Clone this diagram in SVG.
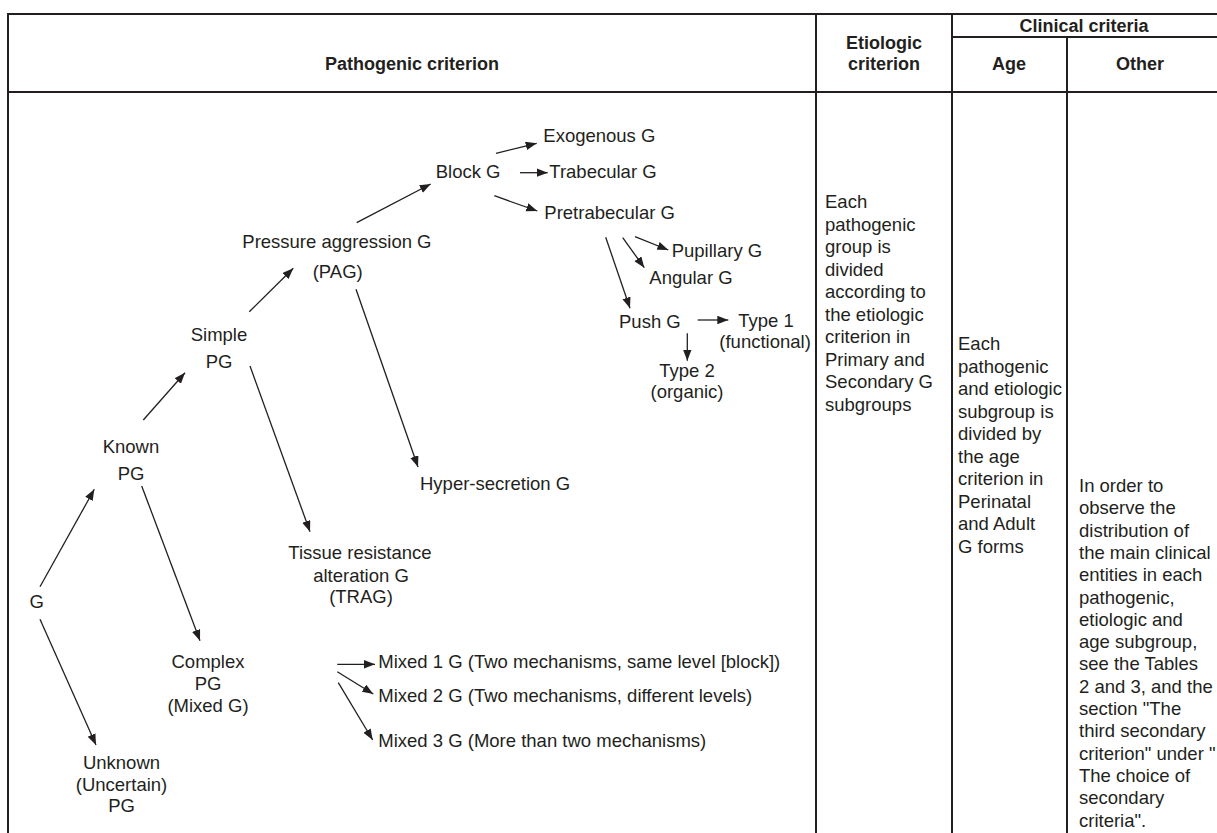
<svg xmlns="http://www.w3.org/2000/svg" width="1217" height="833" viewBox="0 0 1217 833">
<style>
.t{font-family:"Liberation Sans",Arial,sans-serif;font-size:18.5px;fill:#231f20}
.m{text-anchor:middle}
.h{font-family:"Liberation Sans",Arial,sans-serif;font-size:18px;font-weight:bold;fill:#231f20;text-anchor:middle}
.grid line{stroke:#231f20;stroke-width:2}
.conn line{stroke:#231f20;stroke-width:1.3;fill:none;marker-end:url(#ah)}
</style>
<defs>
<marker id="ah" markerUnits="userSpaceOnUse" markerWidth="12" markerHeight="9" refX="11" refY="4.25" orient="auto">
<path d="M0,0 L11,4.25 L0,8.5 z" fill="#231f20"/>
</marker>
</defs>
<rect width="1217" height="833" fill="#fff"/>
<g id="table" class="grid">
<line x1="7" y1="14" x2="1217" y2="14"/>
<line x1="952" y1="37" x2="1217" y2="37"/>
<line x1="7" y1="92" x2="1217" y2="92"/>
<line x1="8" y1="13" x2="8" y2="833"/>
<line x1="816" y1="13" x2="816" y2="833"/>
<line x1="952" y1="13" x2="952" y2="833"/>
<line x1="1067" y1="37" x2="1067" y2="833"/>
</g>
<g id="headers">
<text class="h" x="412" y="70">Pathogenic criterion</text>
<text class="h" x="884" y="49">Etiologic</text>
<text class="h" x="884" y="70">criterion</text>
<text class="h" x="1084" y="32">Clinical criteria</text>
<text class="h" x="1009" y="70">Age</text>
<text class="h" x="1140" y="70">Other</text>
</g>
<g id="connectors" class="conn">
<line x1="40" y1="586.7" x2="94.3" y2="489.3"/>
<line x1="40" y1="619.3" x2="96" y2="745"/>
<line x1="143.3" y1="420" x2="185" y2="372.7"/>
<line x1="141.7" y1="486" x2="200" y2="640.7"/>
<line x1="249.3" y1="311.7" x2="293.3" y2="268.3"/>
<line x1="250" y1="366" x2="310" y2="531.7"/>
<line x1="356.7" y1="222.7" x2="430.7" y2="184"/>
<line x1="356" y1="289.3" x2="418" y2="467"/>
<line x1="496" y1="153.3" x2="536.7" y2="143.3"/>
<line x1="520" y1="172.7" x2="547.7" y2="172.7"/>
<line x1="494.3" y1="195.7" x2="537.3" y2="211"/>
<line x1="605.7" y1="237.3" x2="630" y2="308.3"/>
<line x1="622.7" y1="237.7" x2="644.3" y2="267.7"/>
<line x1="635" y1="236.7" x2="668.3" y2="250"/>
<line x1="697.7" y1="320" x2="728.3" y2="320"/>
<line x1="687.3" y1="333.3" x2="687.3" y2="360.7"/>
<line x1="337.3" y1="664.3" x2="375" y2="664.3"/>
<line x1="337.3" y1="671.7" x2="373.3" y2="694"/>
<line x1="338.3" y1="682.7" x2="372.7" y2="740"/>
</g>
<g id="n-g"><text class="t m" x="36.7" y="608">G</text></g>
<g id="n-known"><text class="t m" x="131" y="453">Known</text><text class="t m" x="131" y="480">PG</text></g>
<g id="n-simple"><text class="t m" x="219" y="341">Simple</text><text class="t m" x="219" y="368">PG</text></g>
<g id="n-pag"><text class="t" x="242.3" y="248">Pressure aggression G</text><text class="t m" x="337.7" y="278">(PAG)</text></g>
<g id="n-block"><text class="t" x="435.7" y="178.3">Block G</text></g>
<g id="n-exo"><text class="t" x="543.3" y="141.7">Exogenous G</text></g>
<g id="n-trab"><text class="t" x="549.3" y="178.3">Trabecular G</text></g>
<g id="n-pretrab"><text class="t" x="544.3" y="219.3">Pretrabecular G</text></g>
<g id="n-pupil"><text class="t" x="671.7" y="256.7">Pupillary G</text></g>
<g id="n-angular"><text class="t" x="649.3" y="284.3">Angular G</text></g>
<g id="n-push"><text class="t" x="619" y="328.3">Push G</text></g>
<g id="n-type1"><text class="t" x="738.3" y="326.7">Type 1</text><text class="t" x="719.3" y="348.3">(functional)</text></g>
<g id="n-type2"><text class="t m" x="687" y="377.3">Type 2</text><text class="t m" x="687" y="398.3">(organic)</text></g>
<g id="n-hyper"><text class="t" x="420" y="490">Hyper-secretion G</text></g>
<g id="n-trag"><text class="t m" x="360" y="559.3">Tissue resistance</text><text class="t m" x="361" y="581.7">alteration G</text><text class="t m" x="361" y="603.3">(TRAG)</text></g>
<g id="n-complex"><text class="t m" x="208" y="668.3">Complex</text><text class="t m" x="208" y="690">PG</text><text class="t m" x="208" y="711.7">(Mixed G)</text></g>
<g id="n-mixed1"><text class="t" x="378.3" y="668.3">Mixed 1 G (Two mechanisms, same level [block])</text></g>
<g id="n-mixed2"><text class="t" x="378.3" y="701.7">Mixed 2 G (Two mechanisms, different levels)</text></g>
<g id="n-mixed3"><text class="t" x="378.3" y="747">Mixed 3 G (More than two mechanisms)</text></g>
<g id="n-unknown"><text class="t m" x="121.5" y="769.3">Unknown</text><text class="t m" x="121.5" y="790.7">(Uncertain)</text><text class="t m" x="121.5" y="812.3">PG</text></g>
<g id="c-etiologic">
<text class="t" x="825" y="208">Each</text>
<text class="t" x="825" y="230.5">pathogenic</text>
<text class="t" x="825" y="253">group is</text>
<text class="t" x="825" y="275.5">divided</text>
<text class="t" x="825" y="298">according to</text>
<text class="t" x="825" y="320.5">the etiologic</text>
<text class="t" x="825" y="343">criterion in</text>
<text class="t" x="825" y="365.5">Primary and</text>
<text class="t" x="825" y="388">Secondary G</text>
<text class="t" x="825" y="410.5">subgroups</text>
</g>
<g id="c-age">
<text class="t" x="958" y="350">Each</text>
<text class="t" x="958" y="372.5">pathogenic</text>
<text class="t" x="958" y="395">and etiologic</text>
<text class="t" x="958" y="417.5">subgroup is</text>
<text class="t" x="958" y="440">divided by</text>
<text class="t" x="958" y="462.5">the age</text>
<text class="t" x="958" y="485">criterion in</text>
<text class="t" x="958" y="507.5">Perinatal</text>
<text class="t" x="958" y="530">and Adult</text>
<text class="t" x="958" y="552.5">G forms</text>
</g>
<g id="c-other">
<text class="t" x="1079" y="492">In order to</text>
<text class="t" x="1079" y="514.3">observe the</text>
<text class="t" x="1079" y="536.6">distribution of</text>
<text class="t" x="1079" y="558.9">the main clinical</text>
<text class="t" x="1079" y="581.2">entities in each</text>
<text class="t" x="1079" y="603.5">pathogenic,</text>
<text class="t" x="1079" y="625.8">etiologic and</text>
<text class="t" x="1079" y="648.1">age subgroup,</text>
<text class="t" x="1079" y="670.4">see the Tables</text>
<text class="t" x="1079" y="692.7">2 and 3, and the</text>
<text class="t" x="1079" y="715">section "The</text>
<text class="t" x="1079" y="737.3">third secondary</text>
<text class="t" x="1079" y="759.6">criterion" under "</text>
<text class="t" x="1079" y="781.9">The choice of</text>
<text class="t" x="1079" y="804.2">secondary</text>
<text class="t" x="1079" y="826.5">criteria".</text>
</g>
</svg>
